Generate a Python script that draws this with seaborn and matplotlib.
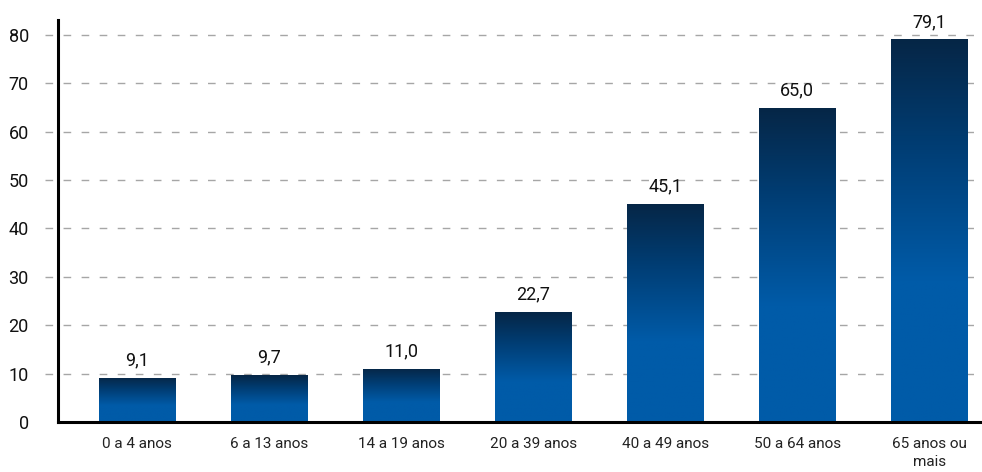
import numpy as np
import pandas as pd
import matplotlib
matplotlib.use("Agg")
import matplotlib.pyplot as plt
import seaborn as sns
from matplotlib.colors import LinearSegmentedColormap

# data
faixas = ["0 a 4 anos", "6 a 13 anos", "14 a 19 anos", "20 a 39 anos",
          "40 a 49 anos", "50 a 64 anos", "65 anos ou\nmais"]
valores = [9.1, 9.7, 11.0, 22.7, 45.1, 65.0, 79.1]
rotulos = ["9,1", "9,7", "11,0", "22,7", "45,1", "65,0", "79,1"]
yticks = [0, 10, 20, 30, 40, 50, 60, 70, 80]

df = pd.DataFrame({"faixa": faixas, "valor": valores})

sns.set_theme(style="white")
plt.rcParams["font.family"] = ["Liberation Sans Narrow", "Roboto", "DejaVu Sans"]

fig = plt.figure(figsize=(9.82, 4.72), dpi=100)
ax = fig.add_axes([58 / 982, 50 / 472, 1 - 58 / 982, (422 - 20) / 472])

sns.barplot(data=df, x="faixa", y="valor", color="#005ba8", width=0.58,
            ax=ax, zorder=3)

# vertical gradient: dark navy on top, fading to blue, solid blue lower part
cmap = LinearSegmentedColormap.from_list(
    "barra", [(0.0, "#005ba8"), (0.37, "#005ba8"), (0.7, "#003f77"),
              (1.0, "#062646")])
grad = np.linspace(0, 1, 256).reshape(-1, 1)
for patch in ax.patches:
    x0 = patch.get_x()
    w = patch.get_width()
    h = patch.get_height()
    im = ax.imshow(grad, cmap=cmap, origin="lower", aspect="auto",
                   extent=[x0, x0 + w, 0, h], zorder=3)
    im.set_clip_path(patch)
    patch.set_facecolor("none")
    patch.set_edgecolor("#6d7c8c")
    patch.set_linewidth(0.6)

ax.set_xlim(-0.6, 6.4)
ax.set_ylim(0, 83.1)

# value labels above bars
for i, (v, lab) in enumerate(zip(valores, rotulos)):
    ax.annotate(lab, (i, v), xytext=(0, 6), textcoords="offset points",
                ha="center", va="bottom", fontsize=13, color="#111111")

# dashed grid, extending a bit left of the axis
for t in yticks[1:]:
    ax.axhline(t, xmin=-0.014, xmax=1, color="#a6a6a6", lw=1.0,
               ls=(0, (5.5, 7.5)), zorder=1, clip_on=False)

ax.set_yticks(yticks)
ax.set_yticklabels([str(t) for t in yticks], fontsize=13, color="#111111")
ax.tick_params(axis="y", length=0, pad=21)
ax.tick_params(axis="x", length=0, pad=11, labelsize=11, labelcolor="#222222")
for lbl in ax.get_xticklabels():
    lbl.set_linespacing(1.35)
ax.set_xlabel("")
ax.set_ylabel("")

for s in ["top", "right"]:
    ax.spines[s].set_visible(False)
for s in ["left", "bottom"]:
    ax.spines[s].set_color("#000000")
    ax.spines[s].set_linewidth(2.2)
    ax.spines[s].set_zorder(5)

fig.savefig("out.png", dpi=100)
